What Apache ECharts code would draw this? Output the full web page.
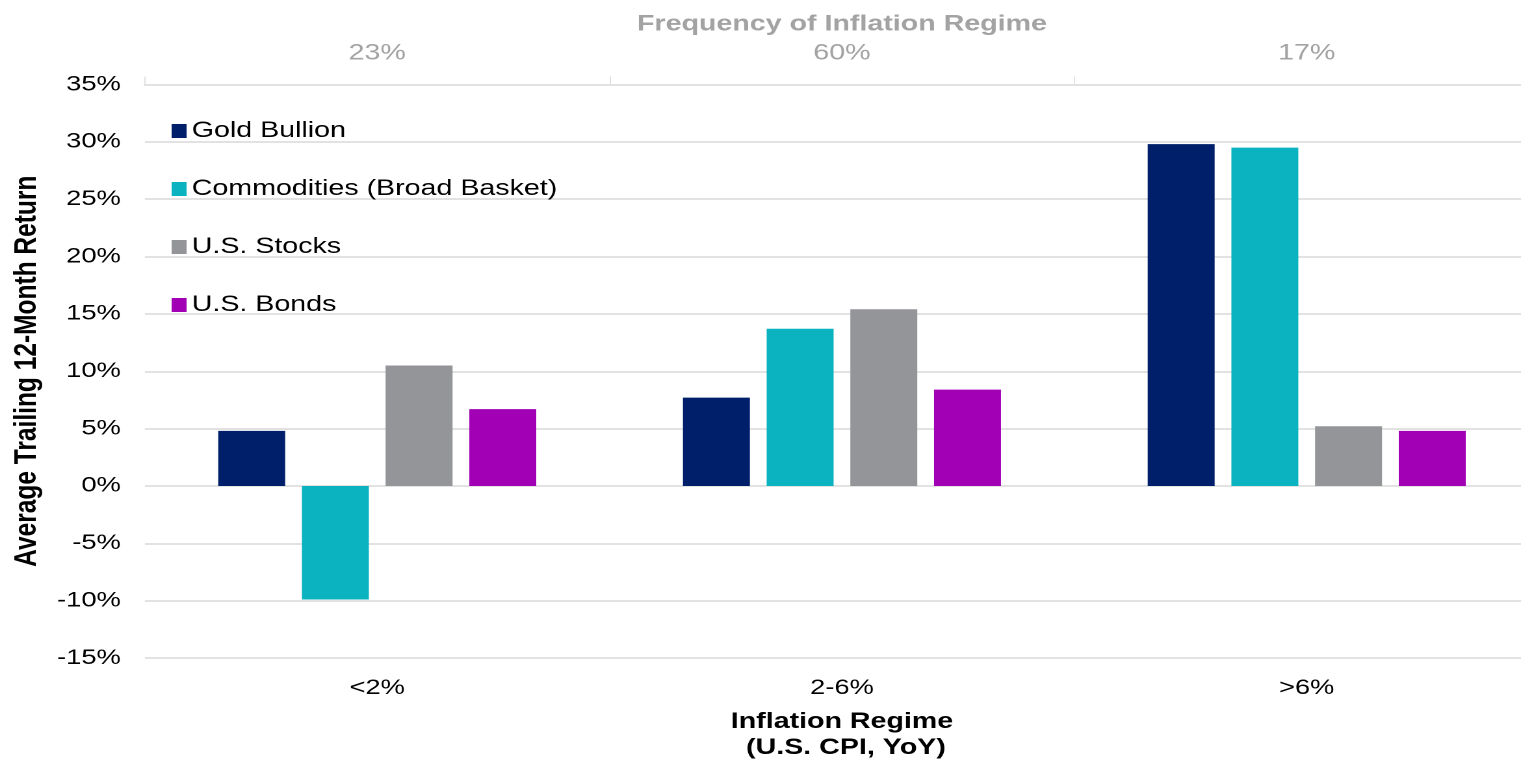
<!DOCTYPE html>
<html>
<head>
<meta charset="utf-8">
<title>Average Trailing 12-Month Return by Inflation Regime</title>
<script src="https://cdn.jsdelivr.net/npm/echarts@6/dist/echarts.min.js"></script>
<style>
  html, body { margin: 0; padding: 0; background: #ffffff; overflow: hidden; width: 1521px; height: 766px; }
  #frame { position: relative; width: 1521px; height: 766px; overflow: hidden; }
  /* The chart is laid out on a narrower canvas and widened horizontally,
     giving the broad, stretched lettering of the original slide. */
  #chart {
    position: absolute;
    left: 0;
    top: 0;
    width: 1190px;
    height: 766px;
    transform: scaleX(1.3);
    transform-origin: 0 0;
  }
</style>
</head>
<body>
<div id="frame"><div id="chart"></div></div>
<script>
// Inflation regimes (U.S. CPI, YoY) and how often each occurred
const regimes = ['<2%', '2-6%', '>6%'];
const regimeFrequency = ['23%', '60%', '17%'];

// Average trailing 12-month return (%) per asset class, one value per regime
const goldBullion = [4.8, 7.7, 29.8];
const commodities = [-9.9, 13.7, 29.5];
const usStocks = [10.5, 15.4, 5.2];
const usBonds = [6.7, 8.4, 4.8];

const seriesNames = ['Gold Bullion', 'Commodities (Broad Basket)', 'U.S. Stocks', 'U.S. Bonds'];
const seriesColors = ['#001F6B', '#0BB3C0', '#939598', '#A100B5'];
const seriesValues = [goldBullion, commodities, usStocks, usBonds];

const FONT = '"Liberation Sans", Arial, Helvetica, sans-serif';
const GRID_LINE = '#e2e2e2';

const chart = echarts.init(document.getElementById('chart'), null, {
  renderer: 'canvas',
  devicePixelRatio: 2
});

chart.setOption({
  animation: false,
  backgroundColor: '#ffffff',
  textStyle: { fontFamily: FONT },
  grid: { left: 108.5, top: 84.5, width: 1075.4, height: 580, containLabel: false },
  legend: {
    orient: 'vertical',
    left: 127,
    top: 115,
    itemWidth: 11.5,
    itemHeight: 14,
    itemGap: 36,
    icon: 'rect',
    textStyle: { fontFamily: FONT, fontSize: 22, color: '#000000', padding: [0, 0, 0, -1] },
    data: seriesNames
  },
  xAxis: [
    {
      type: 'category',
      position: 'bottom',
      data: regimes,
      axisLine: { show: false },
      axisTick: { show: false },
      axisLabel: { fontFamily: FONT, fontSize: 21, color: '#000000', margin: 19.5 },
      name: 'Inflation Regime\n (U.S. CPI, YoY)',
      nameLocation: 'middle',
      nameGap: 51,
      nameTextStyle: { fontFamily: FONT, fontSize: 22, fontWeight: 'bold', color: '#000000', lineHeight: 26 }
    },
    {
      type: 'category',
      position: 'top',
      data: regimeFrequency,
      axisLine: { show: true, lineStyle: { color: GRID_LINE, width: 2 } },
      axisTick: { show: true, length: 8, lineStyle: { color: GRID_LINE, width: 1 } },
      axisLabel: { fontFamily: FONT, fontSize: 22, color: '#a3a3a3', margin: 20 },
      name: 'Frequency of Inflation Regime',
      nameLocation: 'middle',
      nameGap: 49,
      nameTextStyle: { fontFamily: FONT, fontSize: 22, fontWeight: 'bold', color: '#a3a3a3' }
    }
  ],
  yAxis: {
    type: 'value',
    min: -15,
    max: 35,
    interval: 5,
    axisLine: { show: false },
    axisTick: { show: false },
    splitLine: { show: true, lineStyle: { color: GRID_LINE, width: 2 } },
    axisLabel: { fontFamily: FONT, fontSize: 21, color: '#000000', margin: 18.5, formatter: '{value}%' },
    name: 'Average Trailing 12-Month Return',
    nameLocation: 'middle',
    nameGap: 76,
    nameRotate: 90,
    nameTextStyle: { fontFamily: FONT, fontSize: 24.5, fontWeight: 'bold', color: '#000000' }
  },
  series: seriesNames.map((name, i) => ({
    name: name,
    type: 'bar',
    xAxisIndex: 0,
    data: seriesValues[i],
    barWidth: 51.5,
    barGap: '25%',
    itemStyle: { color: seriesColors[i] },
    emphasis: { disabled: true }
  }))
});
</script>
</body>
</html>
